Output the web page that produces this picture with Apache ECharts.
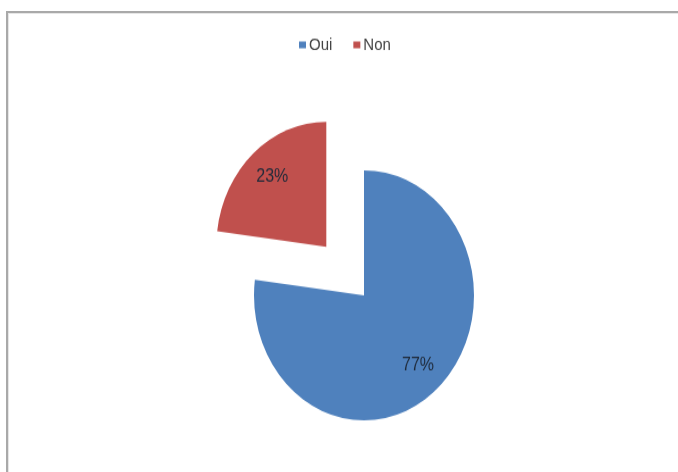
<!DOCTYPE html>
<html>
<head>
<meta charset="utf-8">
<script src="https://cdn.jsdelivr.net/npm/echarts@6/dist/echarts.min.js"></script>
<style>
  html, body { margin: 0; padding: 0; background: #fff; overflow: hidden; }
  #wrap { position: relative; width: 678px; height: 472px; overflow: hidden; }
  #frame {
    position: absolute; left: 6px; top: 11px; width: 700px; height: 500px;
    border-top: 2px solid #a9a9a9; border-left: 2px solid #a9a9a9;
    box-shadow: inset 1px 1px 0 #e6e6e6;
  }
  /* the plot is drawn a little flattened and stretched back vertically */
  #chart {
    position: absolute; left: 0; top: 0; width: 678px; height: 416px;
    transform: scaleY(1.136); transform-origin: 0 0;
  }
</style>
</head>
<body>
<div id="wrap">
  <div id="frame"></div>
  <div id="chart"></div>
</div>
<script>
// Answers: share of "Oui" and "Non" (percent)
const categories = ['Oui', 'Non'];
const values = [77, 23];
const colors = ['#4F81BD', '#C0504D'];
const explodedCategory = 'Non';

const chart = echarts.init(document.getElementById('chart'), null, { renderer: 'canvas' });

const pieData = categories.map((name, i) => ({
  name: name,
  value: values[i],
  selected: name === explodedCategory,
  itemStyle: { color: colors[i] }
}));

const center = [364, 260];
const radius = 110;

chart.setOption({
  animation: false,
  legend: {
    data: categories,
    left: 299,
    top: 32,
    padding: 0,
    icon: 'rect',
    itemWidth: 7,
    itemHeight: 6,
    itemGap: 21,
    selectedMode: false,
    textStyle: { fontFamily: 'Liberation Sans, Arial, sans-serif', fontSize: 15, color: '#444', padding: [0, 0, 0, -2] }
  },
  series: [
    {
      // filled slices
      type: 'pie',
      center: center,
      radius: [0, radius],
      startAngle: 90,
      clockwise: true,
      selectedMode: 'multiple',
      selectedOffset: 57,
      silent: true,
      label: { show: false },
      labelLine: { show: false },
      emphasis: { disabled: true },
      data: pieData
    },
    {
      // transparent ring carrying the percentage labels
      type: 'pie',
      center: center,
      radius: [radius * 0.43, radius],
      startAngle: 90,
      clockwise: true,
      selectedMode: 'multiple',
      selectedOffset: 57,
      silent: true,
      itemStyle: { color: 'rgba(0,0,0,0)' },
      label: {
        show: true,
        position: 'inside',
        formatter: '{c}%',
        fontFamily: 'Liberation Sans, Arial, sans-serif',
        fontSize: 16,
        color: '#1f2a3a'
      },
      labelLine: { show: false },
      emphasis: { disabled: true },
      data: categories.map((name, i) => ({
        name: name,
        value: values[i],
        selected: name === explodedCategory,
        itemStyle: { color: 'rgba(0,0,0,0)' }
      }))
    }
  ]
});
</script>
</body>
</html>
